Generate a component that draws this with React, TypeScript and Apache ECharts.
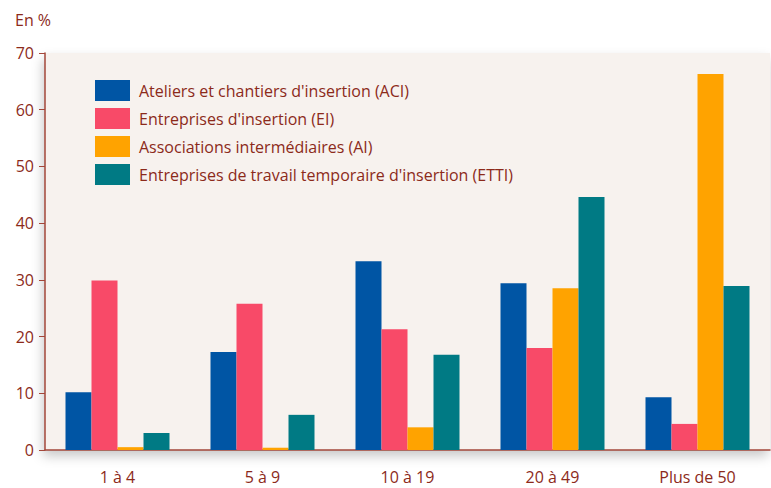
import React, { useEffect, useRef } from "react";
import * as echarts from "echarts";

const categories = ["1 à 4", "5 à 9", "10 à 19", "20 à 49", "Plus de 50"];
const seriesNames = [
  "Ateliers et chantiers d'insertion (ACI)",
  "Entreprises d'insertion (EI)",
  "Associations intermédiaires (AI)",
  "Entreprises de travail temporaire d'insertion (ETTI)",
];
const aci = [10.2, 17.3, 33.3, 29.4, 9.3];
const ei = [29.9, 25.8, 21.3, 18.0, 4.6];
const ai = [0.5, 0.4, 4.0, 28.5, 66.3];
const etti = [3.0, 6.2, 16.8, 44.6, 28.9];
const yTicks = [0, 10, 20, 30, 40, 50, 60, 70];
const colors = ["#0055a4", "#f84a68", "#ffa300", "#007a84"];

const textColor = "#8c2a1a";
const axisColor = "#a3473a";
const font = "'Open Sans', 'Noto Sans', sans-serif";

export default function App() {
  const ref = useRef<HTMLDivElement>(null);
  useEffect(() => {
    const chart = echarts.init(ref.current!, null, { renderer: "svg" });
    const values = [aci, ei, ai, etti];
    chart.setOption({
      animation: false,
      textStyle: { fontFamily: font },
      grid: {
        left: 45,
        right: 1,
        top: 53,
        bottom: 38,
        show: true,
        backgroundColor: "#f7f2ee",
        borderWidth: 0,
        shadowColor: "rgba(0,0,0,0.22)",
        shadowBlur: 12,
        shadowOffsetX: -2,
        shadowOffsetY: 6,
      },
      legend: {
        orient: "vertical",
        left: 95,
        top: 80,
        padding: 0,
        itemWidth: 35,
        itemHeight: 21,
        itemGap: 7,
        icon: "rect",
        data: seriesNames,
        textStyle: { color: textColor, fontSize: 16, fontFamily: font, padding: [0, 0, 0, 4] },
      },
      graphic: [
        {
          type: "text",
          left: 15,
          top: 12,
          style: { text: "En %", fill: textColor, fontSize: 16, fontFamily: font },
        },
      ],
      xAxis: {
        type: "category",
        data: categories,
        axisLine: { lineStyle: { color: axisColor, width: 1.5 } },
        axisTick: { length: 6, lineStyle: { color: axisColor } },
        axisLabel: { color: textColor, fontSize: 16, margin: 19, fontFamily: font },
      },
      yAxis: {
        type: "value",
        min: 0,
        max: 70,
        interval: 10,
        splitLine: { show: false },
        axisLine: { show: true, lineStyle: { color: axisColor, width: 1.5 } },
        axisTick: { show: true, length: 6, lineStyle: { color: axisColor } },
        axisLabel: {
          color: textColor,
          fontSize: 16,
          margin: 11,
          fontFamily: font,
          formatter: (v: number) => (yTicks.includes(v) ? String(v) : ""),
        },
      },
      series: seriesNames.map((name, i) => ({
        name,
        type: "bar",
        data: values[i],
        barWidth: 26,
        barGap: "0%",
        itemStyle: { color: colors[i] },
      })),
    });
    return () => chart.dispose();
  }, []);
  return <div ref={ref} style={{ width: 771, height: 488, position: "absolute", left: 0, top: 0 }} />;
}
